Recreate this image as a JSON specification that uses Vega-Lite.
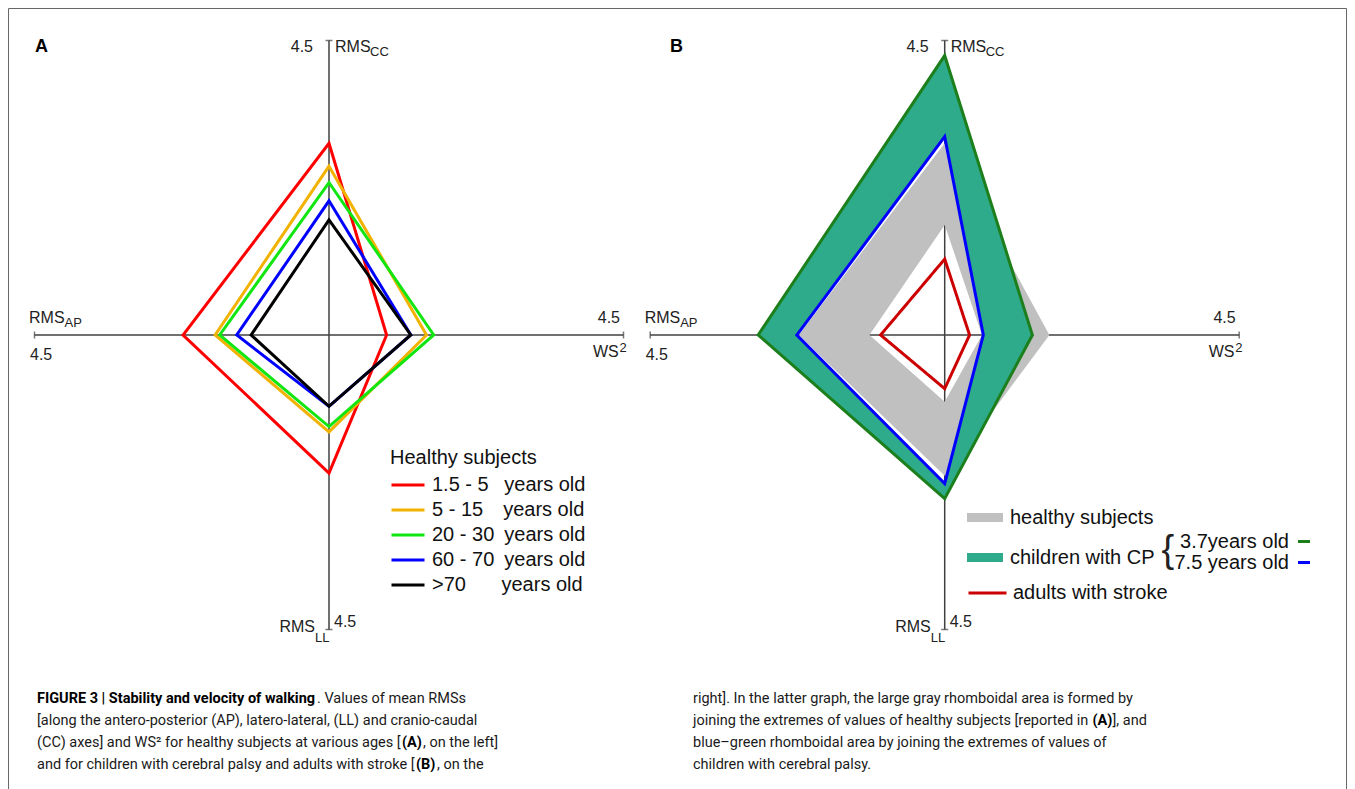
{
  "$schema": "https://vega.github.io/schema/vega-lite/v6.json",
  "padding": {"left": 7.5, "top": 7.5, "right": 0, "bottom": 0},
  "bounds": "flush",
  "columns": 2,
  "spacing": {"row": 73.5, "column": 26.7},
  "resolve": {
    "scale": {"x": "independent", "y": "independent", "color": "independent", "fill": "independent", "stroke": "independent", "strokeDash": "independent"},
    "legend": {"color": "independent", "fill": "independent", "stroke": "independent", "strokeDash": "independent"}
  },
  "config": {
    "view": {"stroke": null},
    "axis": {"disable": true},
    "font": "Liberation Sans",
    "text": {"font": "Liberation Sans", "color": "#222222"},
    "legend": {"labelFont": "Liberation Sans", "titleFont": "Liberation Sans", "labelColor": "#111111", "titleColor": "#111111", "padding": 0, "offset": 0, "labelLimit": 400}
  },
  "datasets": {
    "cross": [{"x": -4.5, "x2": 4.5, "y": 0, "y2": 0}, {"x": 0, "x2": 0, "y": -4.5, "y2": 4.5}],
    "tickH": [{"x": 0, "y": 4.5}, {"x": 0, "y": -4.5}],
    "tickV": [{"x": 4.5, "y": 0}, {"x": -4.5, "y": 0}],
    "healthy": [
      {"g": "1.5 - 5", "o": 1, "x": 0, "y": 2.93}, {"g": "1.5 - 5", "o": 2, "x": 0.88, "y": 0}, {"g": "1.5 - 5", "o": 3, "x": 0, "y": -2.11}, {"g": "1.5 - 5", "o": 4, "x": -2.23, "y": 0},
      {"g": "5 - 15", "o": 1, "x": 0, "y": 2.58}, {"g": "5 - 15", "o": 2, "x": 1.49, "y": 0}, {"g": "5 - 15", "o": 3, "x": 0, "y": -1.48}, {"g": "5 - 15", "o": 4, "x": -1.74, "y": 0},
      {"g": "20 - 30", "o": 1, "x": 0, "y": 2.33}, {"g": "20 - 30", "o": 2, "x": 1.6, "y": 0}, {"g": "20 - 30", "o": 3, "x": 0, "y": -1.4}, {"g": "20 - 30", "o": 4, "x": -1.67, "y": 0},
      {"g": "60 - 70", "o": 1, "x": 0, "y": 2.05}, {"g": "60 - 70", "o": 2, "x": 1.25, "y": 0}, {"g": "60 - 70", "o": 3, "x": 0, "y": -1.09}, {"g": "60 - 70", "o": 4, "x": -1.41, "y": 0},
      {"g": ">70", "o": 1, "x": 0, "y": 1.76}, {"g": ">70", "o": 2, "x": 1.25, "y": 0}, {"g": ">70", "o": 3, "x": 0, "y": -1.09}, {"g": ">70", "o": 4, "x": -1.19, "y": 0}
    ],
    "rings": [
      {"cat": "healthy subjects", "o": 1, "x": 0, "y": 2.93}, {"cat": "healthy subjects", "o": 2, "x": 1.6, "y": 0}, {"cat": "healthy subjects", "o": 3, "x": 0, "y": -2.15}, {"cat": "healthy subjects", "o": 4, "x": -2.23, "y": 0}, {"cat": "healthy subjects", "o": 5, "x": 0, "y": 2.93},
      {"cat": "healthy subjects", "o": 6, "x": 0, "y": 1.68}, {"cat": "healthy subjects", "o": 7, "x": -1.15, "y": 0}, {"cat": "healthy subjects", "o": 8, "x": 0, "y": -1.02}, {"cat": "healthy subjects", "o": 9, "x": 0.57, "y": 0}, {"cat": "healthy subjects", "o": 10, "x": 0, "y": 1.68},
      {"cat": "children with CP", "o": 1, "x": 0, "y": 4.27}, {"cat": "children with CP", "o": 2, "x": 1.34, "y": 0}, {"cat": "children with CP", "o": 3, "x": 0, "y": -2.5}, {"cat": "children with CP", "o": 4, "x": -2.85, "y": 0}, {"cat": "children with CP", "o": 5, "x": 0, "y": 4.27},
      {"cat": "children with CP", "o": 6, "x": 0, "y": 3.03}, {"cat": "children with CP", "o": 7, "x": -2.26, "y": 0}, {"cat": "children with CP", "o": 8, "x": 0, "y": -2.27}, {"cat": "children with CP", "o": 9, "x": 0.59, "y": 0}, {"cat": "children with CP", "o": 10, "x": 0, "y": 3.03}
    ],
    "cplines": [
      {"age": "3.7years old", "o": 1, "x": 0, "y": 4.27}, {"age": "3.7years old", "o": 2, "x": 1.34, "y": 0}, {"age": "3.7years old", "o": 3, "x": 0, "y": -2.5}, {"age": "3.7years old", "o": 4, "x": -2.85, "y": 0},
      {"age": "7.5 years old", "o": 1, "x": 0, "y": 3.03}, {"age": "7.5 years old", "o": 2, "x": 0.59, "y": 0}, {"age": "7.5 years old", "o": 3, "x": 0, "y": -2.27}, {"age": "7.5 years old", "o": 4, "x": -2.26, "y": 0}
    ],
    "stroke": [
      {"grp": "adults with stroke", "o": 1, "x": 0, "y": 1.16}, {"grp": "adults with stroke", "o": 2, "x": 0.38, "y": 0}, {"grp": "adults with stroke", "o": 3, "x": 0, "y": -0.82}, {"grp": "adults with stroke", "o": 4, "x": -0.98, "y": 0}
    ],
    "caption": [
      {"k": "L1b", "c": "L", "n": 1, "t": "FIGURE 3 | Stability and velocity of walking"},
      {"k": "L1c", "c": "L", "n": 1, "t": ". Values of mean RMSs"},
      {"k": "n", "c": "L", "n": 2, "t": "[along the antero-posterior (AP), latero-lateral, (LL) and cranio-caudal"},
      {"k": "n", "c": "L", "n": 3, "t": "(CC) axes] and WS² for healthy subjects at various ages ["},
      {"k": "L3b", "c": "L", "n": 3, "t": "(A)"},
      {"k": "L3c", "c": "L", "n": 3, "t": ", on the left]"},
      {"k": "n", "c": "L", "n": 4, "t": "and for children with cerebral palsy and adults with stroke ["},
      {"k": "L4b", "c": "L", "n": 4, "t": "(B)"},
      {"k": "L4c", "c": "L", "n": 4, "t": ", on the"},
      {"k": "n", "c": "R", "n": 1, "t": "right]. In the latter graph, the large gray rhomboidal area is formed by"},
      {"k": "n", "c": "R", "n": 2, "t": "joining the extremes of values of healthy subjects [reported in"},
      {"k": "R2b", "c": "R", "n": 2, "t": "(A)"},
      {"k": "R2c", "c": "R", "n": 2, "t": "], and"},
      {"k": "n", "c": "R", "n": 3, "t": "blue–green rhomboidal area by joining the extremes of values of"},
      {"k": "n", "c": "R", "n": 4, "t": "children with cerebral palsy."}
    ]
  },
  "concat": [
    {
      "width": 589, "height": 589,
      "layer": [
        {"data": {"values": [{}]}, "mark": {"type": "rect", "fill": null, "stroke": "#666666", "strokeWidth": 1},
         "encoding": {"x": {"datum": -4.897, "type": "quantitative", "scale": {"domain": [-4.5, 4.5], "nice": false, "zero": false}}, "x2": {"datum": 15.548}, "y": {"datum": 4.989, "type": "quantitative", "scale": {"domain": [-4.5, 4.5], "nice": false, "zero": false}}, "y2": {"datum": -7.029}}},
        {"data": {"name": "cross"}, "mark": {"type": "rule", "color": "#404040", "strokeWidth": 1.5},
         "encoding": {"x": {"field": "x", "type": "quantitative"}, "x2": {"field": "x2"}, "y": {"field": "y", "type": "quantitative"}, "y2": {"field": "y2"}}},
        {"data": {"name": "tickH"}, "mark": {"type": "tick", "orient": "horizontal", "size": 7, "thickness": 1.5, "color": "#404040"},
         "encoding": {"x": {"field": "x", "type": "quantitative"}, "y": {"field": "y", "type": "quantitative"}}},
        {"data": {"name": "tickV"}, "mark": {"type": "tick", "orient": "vertical", "size": 7, "thickness": 1.5, "color": "#404040"},
         "encoding": {"x": {"field": "x", "type": "quantitative"}, "y": {"field": "y", "type": "quantitative"}}},
        {"data": {"name": "healthy"}, "mark": {"type": "line", "interpolate": "linear-closed", "strokeWidth": 3},
         "encoding": {"x": {"field": "x", "type": "quantitative"}, "y": {"field": "y", "type": "quantitative"}, "order": {"field": "o"},
           "color": {"field": "g", "type": "nominal", "scale": {"domain": ["1.5 - 5", "5 - 15", "20 - 30", "60 - 70", ">70"], "range": ["#ff0000", "#f2b200", "#11e611", "#0000ff", "#000000"]},
             "legend": {"orient": "none", "legendX": 355.5, "legendY": 407.5, "title": "Healthy subjects", "titleFontSize": 20, "titleFontWeight": "normal", "titlePadding": 6,
               "labelFontSize": 20, "symbolType": "stroke", "symbolSize": 1089, "symbolStrokeWidth": 3, "clipHeight": 22, "rowPadding": 3, "labelOffset": 6,
               "labelExpr": "{'1.5 - 5': '1.5 - 5\u00a0\u2002years old', '5 - 15': '5 - 15\u2002\u2002years old', '20 - 30': '20 - 30\u2002years old', '60 - 70': '60 - 70\u2002years old', '>70': '>70\u2003\u2002\u00a0years old'}[datum.label]"}}}},
        {"data": {"values": [{}]}, "mark": {"type": "text", "align": "left", "baseline": "alphabetic", "dx": 0.5, "dy": 11.5, "fontSize": 18, "fontWeight": "bold", "color": "#000000"},
         "encoding": {"x": {"datum": -4.5, "type": "quantitative"}, "y": {"datum": 4.5, "type": "quantitative"}, "text": {"value": "A"}}},
        {"data": {"values": [{}]}, "mark": {"type": "text", "align": "right", "baseline": "alphabetic", "dx": -16, "dy": 11.5, "fontSize": 16},
         "encoding": {"x": {"datum": 0, "type": "quantitative"}, "y": {"datum": 4.5, "type": "quantitative"}, "text": {"value": "4.5"}}},
        {"data": {"values": [{}]}, "mark": {"type": "text", "align": "left", "baseline": "alphabetic", "dx": 6, "dy": 11.5, "fontSize": 16},
         "encoding": {"x": {"datum": 0, "type": "quantitative"}, "y": {"datum": 4.5, "type": "quantitative"}, "text": {"value": "RMS"}}},
        {"data": {"values": [{}]}, "mark": {"type": "text", "align": "left", "baseline": "alphabetic", "dx": 41, "dy": 15.5, "fontSize": 13},
         "encoding": {"x": {"datum": 0, "type": "quantitative"}, "y": {"datum": 4.5, "type": "quantitative"}, "text": {"value": "CC"}}},
        {"data": {"values": [{}]}, "mark": {"type": "text", "align": "right", "baseline": "alphabetic", "dx": -3.5, "dy": -12.5, "fontSize": 16},
         "encoding": {"x": {"datum": 4.5, "type": "quantitative"}, "y": {"datum": 0, "type": "quantitative"}, "text": {"value": "4.5"}}},
        {"data": {"values": [{}]}, "mark": {"type": "text", "align": "left", "baseline": "alphabetic", "dx": -30.5, "dy": 21.5, "fontSize": 16},
         "encoding": {"x": {"datum": 4.5, "type": "quantitative"}, "y": {"datum": 0, "type": "quantitative"}, "text": {"value": "WS"}}},
        {"data": {"values": [{}]}, "mark": {"type": "text", "align": "left", "baseline": "alphabetic", "dx": -4, "dy": 16.5, "fontSize": 13},
         "encoding": {"x": {"datum": 4.5, "type": "quantitative"}, "y": {"datum": 0, "type": "quantitative"}, "text": {"value": "2"}}},
        {"data": {"values": [{}]}, "mark": {"type": "text", "align": "left", "baseline": "alphabetic", "dx": -5.5, "dy": -12.5, "fontSize": 16},
         "encoding": {"x": {"datum": -4.5, "type": "quantitative"}, "y": {"datum": 0, "type": "quantitative"}, "text": {"value": "RMS"}}},
        {"data": {"values": [{}]}, "mark": {"type": "text", "align": "left", "baseline": "alphabetic", "dx": 30, "dy": -8.5, "fontSize": 13},
         "encoding": {"x": {"datum": -4.5, "type": "quantitative"}, "y": {"datum": 0, "type": "quantitative"}, "text": {"value": "AP"}}},
        {"data": {"values": [{}]}, "mark": {"type": "text", "align": "left", "baseline": "alphabetic", "dx": -4.5, "dy": 24.5, "fontSize": 16},
         "encoding": {"x": {"datum": -4.5, "type": "quantitative"}, "y": {"datum": 0, "type": "quantitative"}, "text": {"value": "4.5"}}},
        {"data": {"values": [{}]}, "mark": {"type": "text", "align": "right", "baseline": "alphabetic", "dx": -14, "dy": 2.5, "fontSize": 16},
         "encoding": {"x": {"datum": 0, "type": "quantitative"}, "y": {"datum": -4.5, "type": "quantitative"}, "text": {"value": "RMS"}}},
        {"data": {"values": [{}]}, "mark": {"type": "text", "align": "left", "baseline": "alphabetic", "dx": -14, "dy": 12.5, "fontSize": 13},
         "encoding": {"x": {"datum": 0, "type": "quantitative"}, "y": {"datum": -4.5, "type": "quantitative"}, "text": {"value": "LL"}}},
        {"data": {"values": [{}]}, "mark": {"type": "text", "align": "left", "baseline": "alphabetic", "dx": 5, "dy": -2.5, "fontSize": 16},
         "encoding": {"x": {"datum": 0, "type": "quantitative"}, "y": {"datum": -4.5, "type": "quantitative"}, "text": {"value": "4.5"}}}
      ]
    },
    {
      "width": 589, "height": 589,
      "layer": [
        {"data": {"name": "cross"}, "mark": {"type": "rule", "color": "#404040", "strokeWidth": 1.5},
         "encoding": {"x": {"field": "x", "type": "quantitative", "scale": {"domain": [-4.5, 4.5], "nice": false, "zero": false}}, "x2": {"field": "x2"}, "y": {"field": "y", "type": "quantitative", "scale": {"domain": [-4.5, 4.5], "nice": false, "zero": false}}, "y2": {"field": "y2"}}},
        {"data": {"name": "tickH"}, "mark": {"type": "tick", "orient": "horizontal", "size": 7, "thickness": 1.5, "color": "#404040"},
         "encoding": {"x": {"field": "x", "type": "quantitative"}, "y": {"field": "y", "type": "quantitative"}}},
        {"data": {"name": "tickV"}, "mark": {"type": "tick", "orient": "vertical", "size": 7, "thickness": 1.5, "color": "#404040"},
         "encoding": {"x": {"field": "x", "type": "quantitative"}, "y": {"field": "y", "type": "quantitative"}}},
        {"data": {"name": "rings"}, "mark": {"type": "line", "interpolate": "linear", "filled": true, "strokeWidth": 0},
         "encoding": {"x": {"field": "x", "type": "quantitative"}, "y": {"field": "y", "type": "quantitative"}, "order": {"field": "o"},
           "fill": {"field": "cat", "type": "nominal", "scale": {"domain": ["healthy subjects", "children with CP"], "range": ["#c0c0c0", "#2eab8a"]},
             "legend": {"orient": "none", "legendX": 316.8, "legendY": 459, "title": null, "labelFontSize": 20, "symbolType": "M-1,-0.25H1V0.25H-1Z", "symbolSize": 1296, "symbolStrokeWidth": 0, "clipHeight": 36, "rowPadding": 4, "labelOffset": 7}}}},
        {"data": {"name": "cplines"}, "mark": {"type": "line", "interpolate": "linear-closed", "strokeWidth": 3},
         "encoding": {"x": {"field": "x", "type": "quantitative"}, "y": {"field": "y", "type": "quantitative"}, "order": {"field": "o"},
           "color": {"field": "age", "type": "nominal", "scale": {"domain": ["3.7years old", "7.5 years old"], "range": ["#1c7f1c", "#0000ff"]},
             "legend": {"orient": "none", "legendX": 643.8, "legendY": 491, "title": null, "labelFontSize": 20, "symbolType": "stroke", "symbolSize": 144, "symbolStrokeWidth": 3, "rowPadding": 1, "labelAlign": "right", "labelOffset": -25}}}},
        {"data": {"name": "stroke"}, "mark": {"type": "line", "interpolate": "linear-closed", "strokeWidth": 3, "stroke": "#cc0000"},
         "encoding": {"x": {"field": "x", "type": "quantitative"}, "y": {"field": "y", "type": "quantitative"}, "order": {"field": "o"},
           "strokeDash": {"field": "grp", "type": "nominal", "scale": {"domain": ["adults with stroke"], "range": [[1, 0]]},
             "legend": {"orient": "none", "legendX": 316.8, "legendY": 540.5, "title": null, "labelFontSize": 20, "symbolType": "stroke", "symbolSize": 1444, "symbolStrokeWidth": 3, "symbolStrokeColor": "#cc0000", "clipHeight": 24, "labelOffset": 5}}}},
        {"data": {"values": [{}]}, "mark": {"type": "text", "align": "center", "baseline": "middle", "fontSize": 38, "color": "#222222"},
         "encoding": {"x": {"datum": 3.41, "type": "quantitative"}, "y": {"datum": -3.3, "type": "quantitative"}, "text": {"value": "{"}}},
        {"data": {"values": [{}]}, "mark": {"type": "text", "align": "left", "baseline": "alphabetic", "dx": 19.8, "dy": 11.5, "fontSize": 18, "fontWeight": "bold", "color": "#000000"},
         "encoding": {"x": {"datum": -4.5, "type": "quantitative"}, "y": {"datum": 4.5, "type": "quantitative"}, "text": {"value": "B"}}},
        {"data": {"values": [{}]}, "mark": {"type": "text", "align": "right", "baseline": "alphabetic", "dx": -16, "dy": 11.5, "fontSize": 16},
         "encoding": {"x": {"datum": 0, "type": "quantitative"}, "y": {"datum": 4.5, "type": "quantitative"}, "text": {"value": "4.5"}}},
        {"data": {"values": [{}]}, "mark": {"type": "text", "align": "left", "baseline": "alphabetic", "dx": 6, "dy": 11.5, "fontSize": 16},
         "encoding": {"x": {"datum": 0, "type": "quantitative"}, "y": {"datum": 4.5, "type": "quantitative"}, "text": {"value": "RMS"}}},
        {"data": {"values": [{}]}, "mark": {"type": "text", "align": "left", "baseline": "alphabetic", "dx": 41, "dy": 15.5, "fontSize": 13},
         "encoding": {"x": {"datum": 0, "type": "quantitative"}, "y": {"datum": 4.5, "type": "quantitative"}, "text": {"value": "CC"}}},
        {"data": {"values": [{}]}, "mark": {"type": "text", "align": "right", "baseline": "alphabetic", "dx": -3.5, "dy": -12.5, "fontSize": 16},
         "encoding": {"x": {"datum": 4.5, "type": "quantitative"}, "y": {"datum": 0, "type": "quantitative"}, "text": {"value": "4.5"}}},
        {"data": {"values": [{}]}, "mark": {"type": "text", "align": "left", "baseline": "alphabetic", "dx": -30.5, "dy": 21.5, "fontSize": 16},
         "encoding": {"x": {"datum": 4.5, "type": "quantitative"}, "y": {"datum": 0, "type": "quantitative"}, "text": {"value": "WS"}}},
        {"data": {"values": [{}]}, "mark": {"type": "text", "align": "left", "baseline": "alphabetic", "dx": -4, "dy": 16.5, "fontSize": 13},
         "encoding": {"x": {"datum": 4.5, "type": "quantitative"}, "y": {"datum": 0, "type": "quantitative"}, "text": {"value": "2"}}},
        {"data": {"values": [{}]}, "mark": {"type": "text", "align": "left", "baseline": "alphabetic", "dx": -5.5, "dy": -12.5, "fontSize": 16},
         "encoding": {"x": {"datum": -4.5, "type": "quantitative"}, "y": {"datum": 0, "type": "quantitative"}, "text": {"value": "RMS"}}},
        {"data": {"values": [{}]}, "mark": {"type": "text", "align": "left", "baseline": "alphabetic", "dx": 30, "dy": -8.5, "fontSize": 13},
         "encoding": {"x": {"datum": -4.5, "type": "quantitative"}, "y": {"datum": 0, "type": "quantitative"}, "text": {"value": "AP"}}},
        {"data": {"values": [{}]}, "mark": {"type": "text", "align": "left", "baseline": "alphabetic", "dx": -4.5, "dy": 24.5, "fontSize": 16},
         "encoding": {"x": {"datum": -4.5, "type": "quantitative"}, "y": {"datum": 0, "type": "quantitative"}, "text": {"value": "4.5"}}},
        {"data": {"values": [{}]}, "mark": {"type": "text", "align": "right", "baseline": "alphabetic", "dx": -14, "dy": 2.5, "fontSize": 16},
         "encoding": {"x": {"datum": 0, "type": "quantitative"}, "y": {"datum": -4.5, "type": "quantitative"}, "text": {"value": "RMS"}}},
        {"data": {"values": [{}]}, "mark": {"type": "text", "align": "left", "baseline": "alphabetic", "dx": -14, "dy": 12.5, "fontSize": 13},
         "encoding": {"x": {"datum": 0, "type": "quantitative"}, "y": {"datum": -4.5, "type": "quantitative"}, "text": {"value": "LL"}}},
        {"data": {"values": [{}]}, "mark": {"type": "text", "align": "left", "baseline": "alphabetic", "dx": 5, "dy": -2.5, "fontSize": 16},
         "encoding": {"x": {"datum": 0, "type": "quantitative"}, "y": {"datum": -4.5, "type": "quantitative"}, "text": {"value": "4.5"}}}
      ]
    },
    {
      "width": 589, "height": 66,
      "data": {"name": "caption"},
      "transform": [{"filter": "datum.c == 'L'"}],
      "encoding": {
        "x": {"datum": 0, "type": "quantitative", "scale": {"domain": [0, 1]}},
        "y": {"field": "n", "type": "ordinal", "scale": {"type": "point", "domain": [1, 2, 3, 4], "range": [0, 66], "padding": 0}},
        "text": {"field": "t"}
      },
      "layer": [
        {"transform": [{"filter": "datum.k == 'n'"}], "mark": {"type": "text", "align": "left", "baseline": "alphabetic", "dx": 2.5, "fontSize": 14.5, "font": "Roboto", "color": "#1a1a1a"}},
        {"transform": [{"filter": "datum.k == 'L1b'"}], "mark": {"type": "text", "align": "left", "baseline": "alphabetic", "dx": 2.5, "fontSize": 14.5, "font": "Roboto", "fontWeight": "bold", "color": "#000000"}},
        {"transform": [{"filter": "datum.k == 'L1c'"}], "mark": {"type": "text", "align": "left", "baseline": "alphabetic", "dx": 282.5, "fontSize": 14.5, "font": "Roboto", "color": "#1a1a1a"}},
        {"transform": [{"filter": "datum.k == 'L3b'"}], "mark": {"type": "text", "align": "left", "baseline": "alphabetic", "dx": 367.5, "fontSize": 14.5, "font": "Roboto", "fontWeight": "bold", "color": "#000000"}},
        {"transform": [{"filter": "datum.k == 'L3c'"}], "mark": {"type": "text", "align": "left", "baseline": "alphabetic", "dx": 388.5, "fontSize": 14.5, "font": "Roboto", "color": "#1a1a1a"}},
        {"transform": [{"filter": "datum.k == 'L4b'"}], "mark": {"type": "text", "align": "left", "baseline": "alphabetic", "dx": 381.5, "fontSize": 14.5, "font": "Roboto", "fontWeight": "bold", "color": "#000000"}},
        {"transform": [{"filter": "datum.k == 'L4c'"}], "mark": {"type": "text", "align": "left", "baseline": "alphabetic", "dx": 402.5, "fontSize": 14.5, "font": "Roboto", "color": "#1a1a1a"}}
      ]
    },
    {
      "width": 589, "height": 66,
      "data": {"name": "caption"},
      "transform": [{"filter": "datum.c == 'R'"}],
      "encoding": {
        "x": {"datum": 0, "type": "quantitative", "scale": {"domain": [0, 1]}},
        "y": {"field": "n", "type": "ordinal", "scale": {"type": "point", "domain": [1, 2, 3, 4], "range": [0, 66], "padding": 0}},
        "text": {"field": "t"}
      },
      "layer": [
        {"transform": [{"filter": "datum.k == 'n'"}], "mark": {"type": "text", "align": "left", "baseline": "alphabetic", "dx": 42.8, "fontSize": 14.5, "font": "Roboto", "color": "#1a1a1a"}},
        {"transform": [{"filter": "datum.k == 'R2b'"}], "mark": {"type": "text", "align": "left", "baseline": "alphabetic", "dx": 442.3, "fontSize": 14.5, "font": "Roboto", "fontWeight": "bold", "color": "#000000"}},
        {"transform": [{"filter": "datum.k == 'R2c'"}], "mark": {"type": "text", "align": "left", "baseline": "alphabetic", "dx": 462.3, "fontSize": 14.5, "font": "Roboto", "color": "#1a1a1a"}}
      ]
    }
  ]
}
